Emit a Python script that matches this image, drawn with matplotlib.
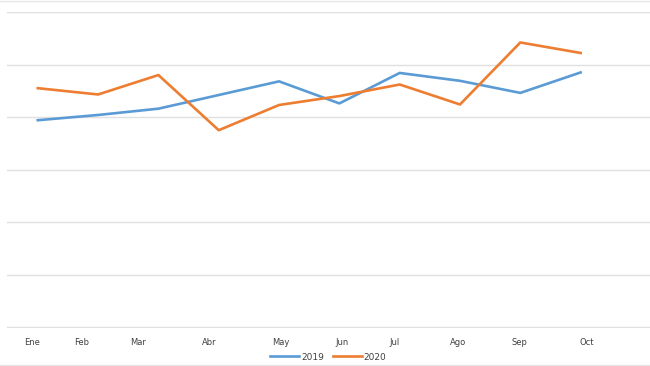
import matplotlib
matplotlib.use("Agg")
import matplotlib.pyplot as plt
from matplotlib.lines import Line2D

# monthly values (axis has no labels, so units are arbitrary)
months = ["Ene", "Feb", "Mar", "Abr", "May", "Jun", "Jul", "Ago", "Sep", "Oct"]
vals_2019 = [39.4, 40.4, 41.6, 44.2, 46.8, 42.6, 48.4, 46.9, 44.6, 48.5]
vals_2020 = [45.5, 44.3, 48.0, 37.5, 42.3, 44.0, 46.2, 42.4, 54.2, 52.2]

# the month labels in the original sit a bit off the data points
label_pos = [-0.1, 0.73, 1.66, 2.85, 4.03, 5.04, 5.92, 6.97, 7.98, 9.1]

fig = plt.figure(figsize=(6.5, 3.66), dpi=100)
ax = fig.add_axes([0.0108, 0.1038, 0.9892, 0.8634])

x = list(range(len(months)))
ax.plot(x, vals_2019, color="#5B9BD5", lw=1.9, label="2019")
ax.plot(x, vals_2020, color="#ED7D31", lw=1.9, label="2020")

ax.set_xlim(-0.51, 10.15)
ax.set_ylim(-0.15, 60)
ax.set_yticks(range(0, 61, 10))
ax.yaxis.grid(True, color="#e0e0e0", lw=1)
ax.set_axisbelow(True)
ax.tick_params(axis="y", left=False, labelleft=False)

ax.set_xticks(label_pos)
ax.set_xticklabels(months, fontsize=6, color="#404040")
ax.tick_params(axis="x", length=0, pad=7)

for s in ax.spines.values():
    s.set_visible(False)

ax.legend(loc="upper center", bbox_to_anchor=(0.5, -0.052), ncol=2, frameon=False,
          fontsize=6.5, handlelength=3.2, handletextpad=0.2, columnspacing=1.0,
          labelcolor="#404040")

# faint border lines at top and bottom of the picture
fig.add_artist(Line2D([0, 1], [0.997, 0.997], color="#e6e6e6", lw=1))
fig.add_artist(Line2D([0, 1], [0.004, 0.004], color="#e6e6e6", lw=1))

fig.savefig("out.png", dpi=100)
